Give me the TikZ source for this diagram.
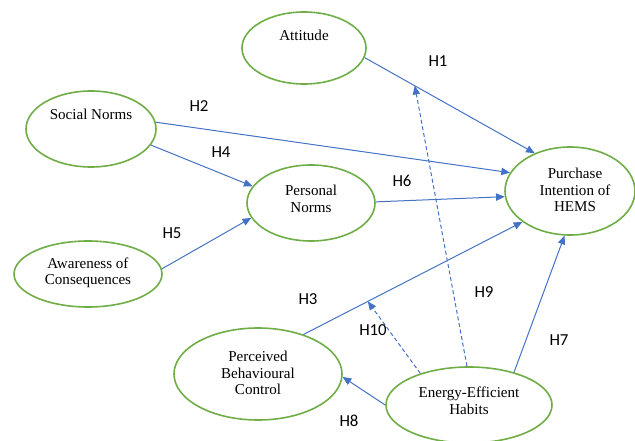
\documentclass[tikz,border=0pt]{standalone}
\usepackage{fontspec}
\setmainfont{Liberation Serif}
\newfontfamily\lblfont{Carlito}
\usetikzlibrary{arrows.meta,shapes.geometric}
\definecolor{elgreen}{RGB}{112,173,71}
\definecolor{arblue}{RGB}{68,114,196}
\begin{document}
\begin{tikzpicture}[x=0.75pt,y=-0.75pt,
  el/.style 2 args={draw=elgreen,line width=1.2pt,ellipse,inner sep=0pt,
    minimum width=#1*1.5pt,minimum height=#2*1.5pt},
  txt/.style={align=center,inner sep=0pt,font=\fontsize{11.3}{12.4}\selectfont},
  hyp/.style={inner sep=0pt,font=\lblfont\fontsize{12.6}{14}\selectfont},
  arr/.style={draw=arblue,line width=0.75pt,-{Triangle[length=6.5pt,width=5.5pt]}},
  darr/.style={arr,dash pattern=on 3pt off 2pt}]
\useasboundingbox (0,0) rectangle (635,441);
% ellipses
\node[el={62}{36}] (att) at (304,48) {};
\node[el={65}{38}] (sn) at (91,129) {};
\node[el={64}{38}] (pn) at (311,203) {};
\node[el={65}{44}] (pi) at (570,191) {};
\node[el={74}{33}] (ac) at (88,274) {};
\node[el={84}{46}] (pbc) at (258,374) {};
\node[el={83}{38}] (eeh) at (469,405) {};
% texts
\node[txt] (att-t) at (304,35) {Attitude};
\node[txt] (sn-t) at (91,114) {Social Norms};
\node[txt] (pn-t) at (311,199) {Personal\\Norms};
\node[txt] (pi-t) at (575,190) {Purchase\\Intention of\\HEMS};
\node[txt] (ac-t) at (88,273) {Awareness of\\Consequences};
\node[txt] (pbc-t) at (258,373) {Perceived\\Behavioural\\Control};
\node[txt] (eeh-t) at (469,401) {Energy-Efficient\\Habits};
% connectors
\draw[arr] (att.-9) -- coordinate[pos=0.295] (h1m) (pi.133);
\draw[arr] (sn.6) -- (pi.163);
\draw[arr] (sn.-15.6) -- (pn.164);
\draw[arr] (pn.1) -- (pi.185);
\draw[arr] (ac.4.7) -- (pn.194);
\draw[arr] (pbc.41.7) -- coordinate[pos=0.294] (h3m) (pi.213.7);
\draw[arr] (eeh.36.7) -- (pi.263);
\draw[arr] (eeh.180) -- (pbc.-2);
\draw[darr] (eeh.93) -- (h1m);
\draw[darr] (eeh.147.4) -- (h3m);
% hypothesis labels
\node[hyp] (l1) at (438,61) {H1};
\node[hyp] (l2) at (199,106) {H2};
\node[hyp] (l4) at (221,152) {H4};
\node[hyp] (l6) at (402,181) {H6};
\node[hyp] (l5) at (172,233) {H5};
\node[hyp] (l3) at (308,299) {H3};
\node[hyp] (l10) at (373,330) {H10};
\node[hyp] (l8) at (349,421) {H8};
\node[hyp] (l9) at (484,292) {H9};
\node[hyp] (l7) at (559,340) {H7};
\end{tikzpicture}
\end{document}
